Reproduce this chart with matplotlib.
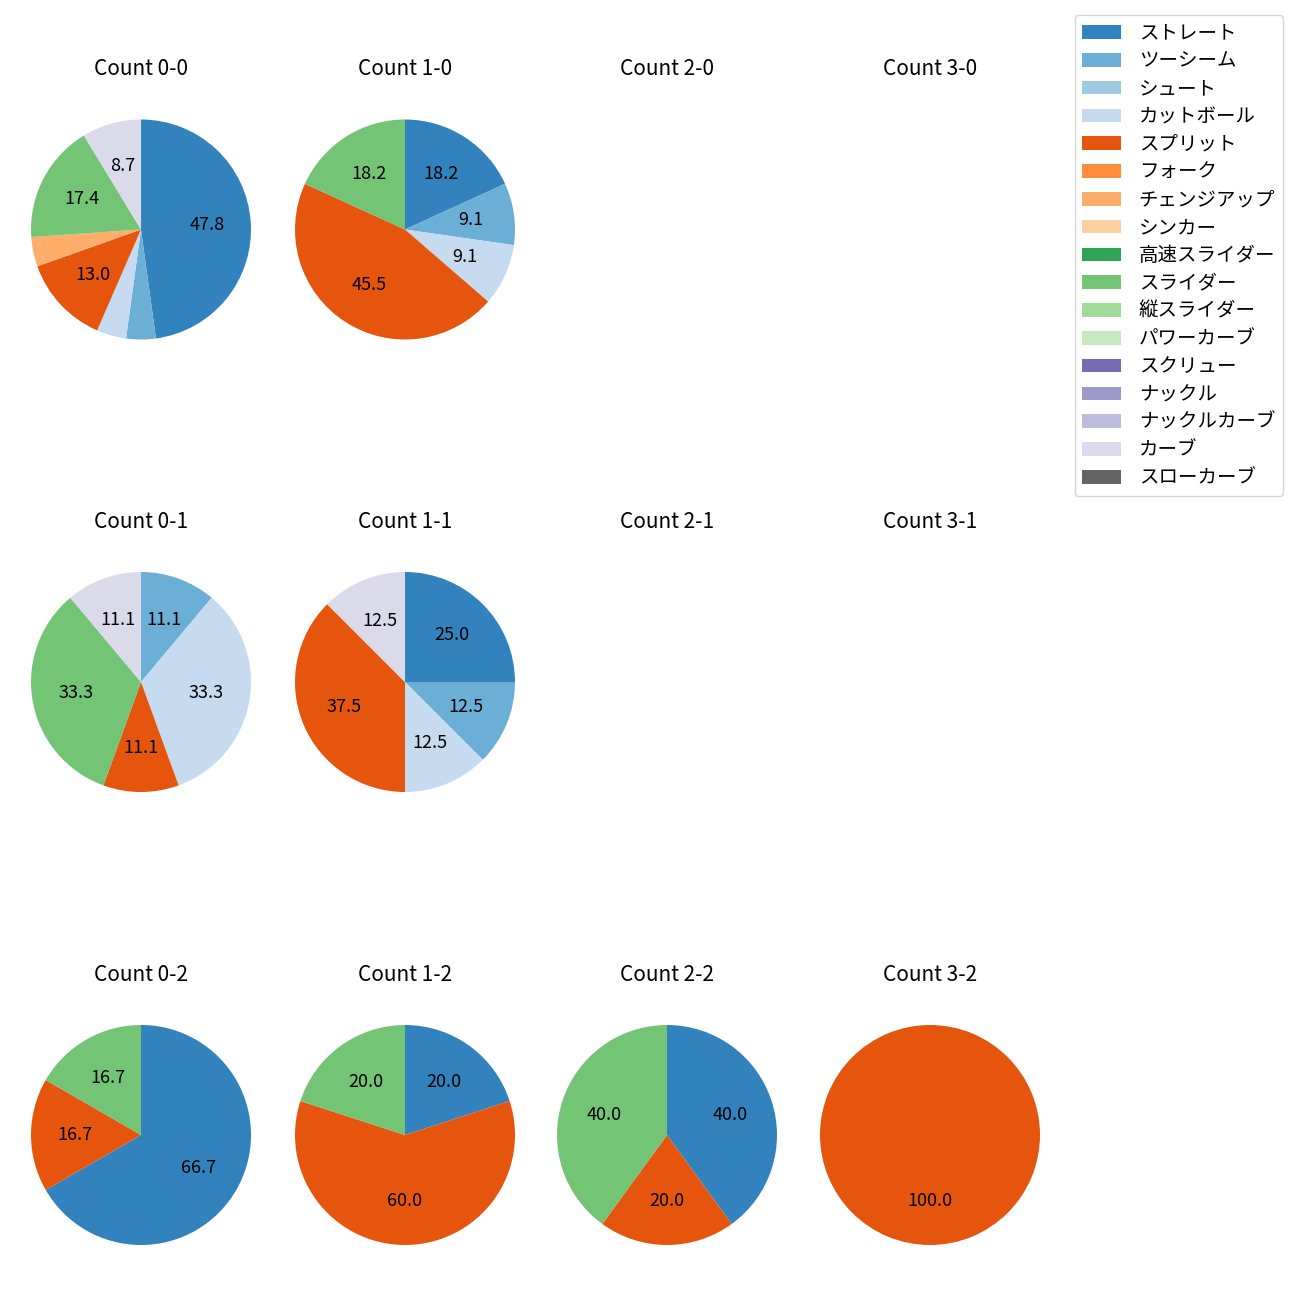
import matplotlib
matplotlib.use("Agg")
import matplotlib.pyplot as plt
from matplotlib.patches import Patch

plt.rcParams['font.family'] = ['Noto Sans CJK JP', 'DejaVu Sans']

# pitch types (legend order) and their colours come from tab20c
pitch_types = ['ストレート', 'ツーシーム', 'シュート', 'カットボール', 'スプリット',
               'フォーク', 'チェンジアップ', 'シンカー', '高速スライダー', 'スライダー',
               '縦スライダー', 'パワーカーブ', 'スクリュー', 'ナックル', 'ナックルカーブ',
               'カーブ', 'スローカーブ']

# pitch counts per ball-strike count (same order as pitch_types)
counts = {
    '0-0': [11, 1, 0, 1, 3, 0, 1, 0, 0, 4, 0, 0, 0, 0, 0, 2, 0],
    '1-0': [2, 1, 0, 1, 5, 0, 0, 0, 0, 2, 0, 0, 0, 0, 0, 0, 0],
    '2-0': [],
    '3-0': [],
    '0-1': [0, 1, 0, 3, 1, 0, 0, 0, 0, 3, 0, 0, 0, 0, 0, 1, 0],
    '1-1': [2, 1, 0, 1, 3, 0, 0, 0, 0, 0, 0, 0, 0, 0, 0, 1, 0],
    '2-1': [],
    '3-1': [],
    '0-2': [4, 0, 0, 0, 1, 0, 0, 0, 0, 1, 0, 0, 0, 0, 0, 0, 0],
    '1-2': [1, 0, 0, 0, 3, 0, 0, 0, 0, 1, 0, 0, 0, 0, 0, 0, 0],
    '2-2': [2, 0, 0, 0, 1, 0, 0, 0, 0, 2, 0, 0, 0, 0, 0, 0, 0],
    '3-2': [0, 0, 0, 0, 1, 0, 0, 0, 0, 0, 0, 0, 0, 0, 0, 0, 0],
}
balls = ['0', '1', '2', '3']
strikes = ['0', '1', '2']

cmap = plt.get_cmap('tab20c')
colors = [cmap(i) for i in range(len(pitch_types))]

fig = plt.figure(figsize=(13, 13), dpi=100)
W, H = 1300.0, 1300.0
size = 275.0
xcen = [141, 405, 667, 930]
ycen = [229.5, 682, 1135]


def fmt(p):
    return '%.1f' % p if p >= 5 else ''


for r, s in enumerate(strikes):
    for c, b in enumerate(balls):
        key = b + '-' + s
        ax = fig.add_axes([(xcen[c] - size / 2) / W, 1 - (ycen[r] + size / 2) / H,
                           size / W, size / H])
        vals = counts[key]
        if sum(vals) > 0:
            idx = [i for i, v in enumerate(vals) if v > 0]
            ax.pie([vals[i] for i in idx], colors=[colors[i] for i in idx],
                   startangle=90, counterclock=False, autopct=fmt,
                   textprops={'fontsize': 13})
        else:
            ax.set_xlim(-1.25, 1.25)
            ax.set_ylim(-1.25, 1.25)
        ax.axis('off')
        ax.set_title('Count ' + key, fontsize=15, pad=12)

handles = [Patch(facecolor=colors[i], label=pitch_types[i]) for i in range(len(pitch_types))]
fig.legend(handles=handles, loc='upper right', bbox_to_anchor=(0.9944, 0.996),
           fontsize=14, labelspacing=0.35, handletextpad=0.9)

fig.savefig('out.png', dpi=100)
